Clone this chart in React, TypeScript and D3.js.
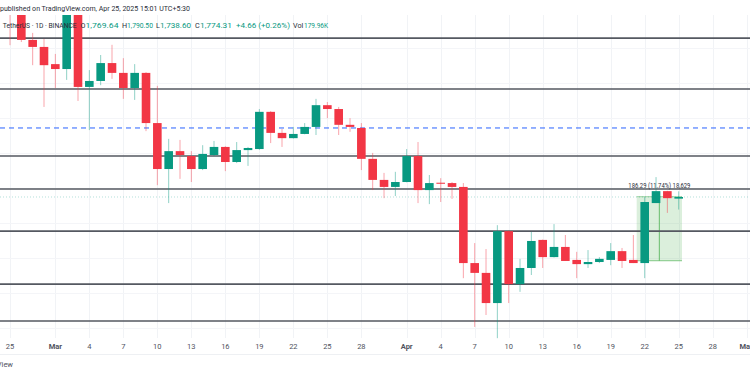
import React from "react";
import * as d3 from "d3";

const dates = [
  "2025-02-25","2025-02-26","2025-02-27","2025-02-28",
  "2025-03-01","2025-03-02","2025-03-03","2025-03-04","2025-03-05","2025-03-06","2025-03-07","2025-03-08","2025-03-09","2025-03-10",
  "2025-03-11","2025-03-12","2025-03-13","2025-03-14","2025-03-15","2025-03-16","2025-03-17","2025-03-18","2025-03-19","2025-03-20",
  "2025-03-21","2025-03-22","2025-03-23","2025-03-24","2025-03-25","2025-03-26","2025-03-27","2025-03-28","2025-03-29","2025-03-30","2025-03-31",
  "2025-04-01","2025-04-02","2025-04-03","2025-04-04","2025-04-05","2025-04-06","2025-04-07","2025-04-08","2025-04-09","2025-04-10",
  "2025-04-11","2025-04-12","2025-04-13","2025-04-14","2025-04-15","2025-04-16","2025-04-17","2025-04-18","2025-04-19","2025-04-20",
  "2025-04-21","2025-04-22","2025-04-23","2025-04-24","2025-04-25",
];
const openP = [2330,2300,2222,2202,2153,2139,2325,2088,2105,2156,2128,2085,2128,1985,1854,1905,1891,1854,1894,1917,1874,1908,1911,2017,1957,1942,1954,1974,2036,2025,1980,1971,1883,1823,1803,1817,1891,1794,1815,1814,1803,1586,1558,1472,1677,1526,1572,1652,1603,1632,1595,1583,1589,1595,1620,1595,1586,1757,1791,1769.64];
const highP = [2345,2310,2242,2225,2182,2345,2340,2136,2179,2208,2170,2153,2130,2091,1940,1937,1905,1922,1934,1919,1931,1917,2025,2019,1968,1974,1985,2054,2045,2031,1999,1985,1900,1843,1846,1911,1931,1837,1828,1817,1814,1643,1626,1694,1679,1598,1675,1653,1697,1666,1618,1623,1603,1643,1629,1666,1774,1831,1792,1790.5];
const lowP = [2207,2216,2150,2031,2085,2108,2048,1965,2093,2111,2054,2051,1962,1808,1757,1826,1817,1851,1891,1848,1871,1863,1909,1928,1917,1941,1953,1951,1999,1951,1960,1851,1794,1771,1777,1816,1757,1754,1760,1769,1543,1404,1438,1372,1472,1504,1552,1572,1602,1592,1543,1572,1586,1580,1572,1586,1543,1757,1729,1738.6];
const closeP = [2296,2222,2202,2150,2139,2330,2088,2105,2156,2128,2085,2128,1985,1854,1905,1894,1854,1897,1917,1874,1908,1914,2017,1957,1942,1954,1974,2036,2025,1980,1974,1883,1823,1803,1817,1891,1794,1814,1812,1803,1586,1558,1472,1677,1526,1572,1649,1603,1632,1592,1583,1589,1598,1620,1592,1586,1760,1791,1771,1774.31];

const levelPrices = [2227, 2082, 1891, 1797, 1677, 1526, 1421];
const dashedLevel = 1971;
const lastPrice = 1774.31;

const tickDates = ["2025-02-25","2025-03-01","2025-03-04","2025-03-07","2025-03-10","2025-03-13","2025-03-16","2025-03-19","2025-03-22","2025-03-25","2025-03-28","2025-04-01","2025-04-04","2025-04-07","2025-04-10","2025-04-13","2025-04-16","2025-04-19","2025-04-22","2025-04-25","2025-04-28","2025-05-01"];
const tickLabels = ["25","Mar","4","7","10","13","16","19","22","25","28","Apr","4","7","10","13","16","19","22","25","28","May"];

const measureStart = "2025-04-21T07:00:00Z";
const measureEnd = "2025-04-25T07:00:00Z";
const measureLow = 1592.7;
const measureHigh = 1775.2;
const measureText = "186.29 (11.74%) 18,629";

const legendChange = "+4.66 (+0.26%)";
const legendVol = "179.96K";

const W = 750, H = 375;
const UP = "#089981", DOWN = "#f23645";

export default function App() {
  const parse = (s: string) => new Date(s.length > 10 ? s : s + "T00:00:00Z");
  const x = d3.scaleUtc()
    .domain([parse("2025-02-25"), parse("2025-04-25")])
    .range([10, 678.7]);
  const y = d3.scaleLinear().domain([1372.45, 2335.75]).range([338, 0]);
  const bodyW = 8.6;
  const fmt = d3.format(",.2f");
  const n = dates.length - 1;
  const font = "Roboto, 'Noto Sans', sans-serif";

  const mx0 = x(parse(measureStart));
  const mx1 = x(parse(measureEnd));
  const my0 = y(measureHigh);
  const my1 = y(measureLow);

  return (
    <svg width={W} height={H} style={{ position: "absolute", left: 0, top: 0, background: "#fff" }} fontFamily={font}>
      <defs>
        <clipPath id="pane"><rect x={0} y={15} width={W} height={325} /></clipPath>
      </defs>
      <rect x={0} y={0} width={W} height={H} fill="#fff" />
      <g clipPath="url(#pane)">
        {tickDates.map((d, i) => (
          <line key={"vg" + i} x1={Math.round(x(parse(d))) + 0.5} x2={Math.round(x(parse(d))) + 0.5} y1={15} y2={338} stroke="#f1f3f6" strokeWidth={1} />
        ))}
        {d3.range(1400, 2400, 100).map((p) => (
          <line key={"hg" + p} x1={0} x2={W} y1={Math.round(y(p)) + 0.5} y2={Math.round(y(p)) + 0.5} stroke="#f4f5f8" strokeWidth={1} />
        ))}
      </g>
      <line x1={0} x2={W} y1={354.5} y2={354.5} stroke="#eef0f3" />
      <g clipPath="url(#pane)">
        <rect x={mx0} y={my0} width={mx1 - mx0} height={my1 - my0} fill="#4caf50" fillOpacity={0.2} />
        <line x1={mx0} x2={mx1} y1={my0} y2={my0} stroke="#66bb6a" strokeOpacity={0.6} />
        <line x1={mx0} x2={mx1} y1={my1} y2={my1} stroke="#66bb6a" strokeOpacity={0.8} />
        <line x1={(mx0 + mx1) / 2} x2={(mx0 + mx1) / 2} y1={my0} y2={my1} stroke="#4caf50" strokeOpacity={0.8} />
        {levelPrices.map((p, i) => (
          <line key={"lv" + i} x1={0} x2={W} y1={y(p)} y2={y(p)} stroke="#555861" strokeWidth={1.6} />
        ))}
        <line x1={0} x2={W} y1={y(dashedLevel)} y2={y(dashedLevel)} stroke="#2962ff" strokeWidth={1} strokeDasharray="5,4" />
        <line x1={0} x2={W} y1={y(lastPrice)} y2={y(lastPrice)} stroke={UP} strokeOpacity={0.3} strokeWidth={1} strokeDasharray="1,2" />
        {dates.map((d, i) => {
          const cx = x(parse(d));
          const up = closeP[i] >= openP[i];
          const c = up ? UP : DOWN;
          const top = y(Math.max(openP[i], closeP[i]));
          const bot = y(Math.min(openP[i], closeP[i]));
          return (
            <g key={d}>
              <line x1={cx} x2={cx} y1={y(highP[i])} y2={y(lowP[i])} stroke={c} strokeOpacity={0.45} strokeWidth={1} />
              <rect x={cx - bodyW / 2} y={top} width={bodyW} height={Math.max(1, bot - top)} fill={c} />
            </g>
          );
        })}
      </g>
      <text x={(mx0 + mx1) / 2} y={y(measureHigh) - 9} fontSize={6.5} textAnchor="middle" fill="#2a2e39" textLength={62} lengthAdjust="spacingAndGlyphs">{measureText}</text>
      {tickDates.map((d, i) => (
        <text key={"tl" + i} x={x(parse(d))} y={349} fontSize={7.5} textAnchor="middle" fill="#50535e" fontWeight={tickLabels[i].length === 3 ? 700 : 400}>{tickLabels[i]}</text>
      ))}
      <text x={0} y={11} fontSize={7.2} fill="#2a2e39" textLength={190} lengthAdjust="spacingAndGlyphs">published on TradingView.com, Apr 25, 2025 15:01 UTC+5:30</text>
      <g fontSize={7.2}>
        <text x={2.7} y={28} fill="#2a2e39" textLength={74} lengthAdjust="spacingAndGlyphs">TetherUS · 1D · BINANCE</text>
        <text x={80.5} y={28} fill="#2a2e39">O</text>
        <text x={85.5} y={28} fill={UP} textLength={33} lengthAdjust="spacingAndGlyphs">{fmt(openP[n])}</text>
        <text x={122} y={28} fill="#2a2e39">H</text>
        <text x={127} y={28} fill={UP} textLength={26} lengthAdjust="spacingAndGlyphs">{fmt(highP[n])}</text>
        <text x={156} y={28} fill="#2a2e39">L</text>
        <text x={160} y={28} fill={UP} textLength={31} lengthAdjust="spacingAndGlyphs">{fmt(lowP[n])}</text>
        <text x={195} y={28} fill="#2a2e39">C</text>
        <text x={200} y={28} fill={UP} textLength={32} lengthAdjust="spacingAndGlyphs">{fmt(closeP[n])}</text>
        <text x={236} y={28} fill={UP} textLength={54} lengthAdjust="spacingAndGlyphs">{legendChange}</text>
        <text x={293} y={28} fill="#2a2e39">Vol</text>
        <text x={304} y={28} fill={UP} textLength={24} lengthAdjust="spacingAndGlyphs">{legendVol}</text>
      </g>
      <text x={13} y={367} fontSize={7.5} textAnchor="end" fill="#50535e">TradingView</text>
    </svg>
  );
}
